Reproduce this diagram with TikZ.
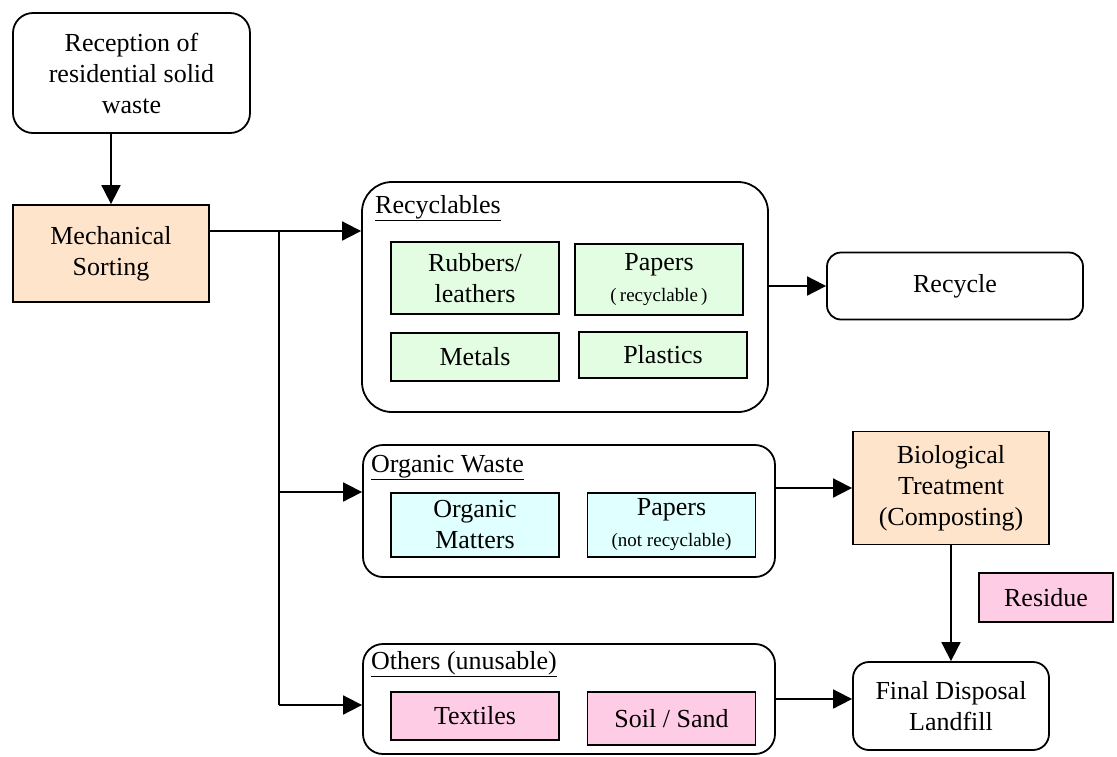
\documentclass[tikz,border=0pt]{standalone}
\usepackage{fontspec}
\setmainfont{Liberation Serif}
\usetikzlibrary{arrows.meta}
\definecolor{peach}{RGB}{255,228,204}
\definecolor{leaf}{RGB}{226,253,226}
\definecolor{aqua}{RGB}{224,255,255}
\definecolor{rose}{RGB}{255,204,230}
\begin{document}
\begin{tikzpicture}[x=1pt,y=-1pt,
    every node/.style={font=\fontsize{26}{31}\selectfont, align=center, inner sep=0pt},
    box/.style={draw, line width=1.8pt},
    rbox/.style={box, rounded corners=20pt},
    item/.style={box, minimum width=168pt},
    line/.style={line width=1.8pt},
    arr/.style={line width=1.8pt, -{Triangle[length=19pt,width=19pt]}}]
    \useasboundingbox (0,0) rectangle (1117,756);
    \node [rbox, minimum width=237pt, minimum height=120pt] (recep) at (131.5,73) {Reception of\\residential solid\\waste};
    \node [box, fill=peach, minimum width=196pt, minimum height=97pt] (mech) at (111,253.5) {Mechanical\\Sorting};
    \node [rbox, rounded corners=30pt, minimum width=406pt, minimum height=230pt] (recbox) at (565,297) {};
    \node [anchor=base west] (reclab) at (375,213) {\underline{Recyclables}};
    \node [item, fill=leaf, minimum height=72pt] (rubber) at (475,278) {Rubbers/\\leathers};
    \node [item, fill=leaf, minimum height=71pt] (paper1) at (659,279.5) {Papers\\{\fontsize{19}{22}\selectfont (\,recyclable\,)}};
    \node [item, fill=leaf, minimum height=48pt] (metal) at (475,357) {Metals};
    \node [item, fill=leaf, minimum height=46pt] (plastic) at (663,355) {Plastics};
    \node [rbox, rounded corners=14pt, minimum width=256pt, minimum height=67pt] (recycle) at (955,286) {Recycle};
    \node [rbox, minimum width=412pt, minimum height=132pt] (orgbox) at (569,511) {};
    \node [anchor=base west] (orglab) at (371,472) {\underline{Organic Waste}};
    \node [item, fill=aqua, minimum height=64pt] (organic) at (475,525) {Organic\\Matters};
    \node [item, fill=aqua, minimum height=64pt] (paper2) at (671.5,525) {Papers\\{\fontsize{19}{22}\selectfont (not recyclable)}};
    \node [box, fill=peach, minimum width=196pt, minimum height=113pt] (bio) at (951,488) {Biological\\Treatment\\(Composting)};
    \node [box, fill=rose, minimum width=134pt, minimum height=49pt] (residue) at (1046,597.5) {Residue};
    \node [rbox, rounded corners=16pt, minimum width=196pt, minimum height=88pt] (fin) at (951,706) {Final Disposal\\Landfill};
    \node [rbox, minimum width=412pt, minimum height=110pt] (othbox) at (569,699) {};
    \node [anchor=base west] (othlab) at (371,669) {\underline{Others (unusable)}};
    \node [item, fill=rose, minimum height=48pt] (textile) at (475,716) {Textiles};
    \node [item, fill=rose, minimum height=53pt] (soil) at (671.5,718.5) {Soil / Sand};
    \coordinate (split1) at (279,231);
    \coordinate (split2) at (279,492);
    \coordinate (split3) at (279,705);
    \draw [arr] (recep.south -| mech.north) -- (mech.north);
    \draw [arr] (mech.east |- split1) -- (split1 -| recbox.west);
    \draw [line] (split1) -- (split3);
    \draw [arr] (split2) -- (split2 -| orgbox.west);
    \draw [arr] (split3) -- (split3 -| othbox.west);
    \draw [arr] (recycle.west -| recbox.east) -- (recycle.west);
    \draw [arr] (bio.west -| orgbox.east) -- (bio.west);
    \draw [arr] (bio.south) -- (bio.south |- fin.north);
    \draw [arr] (othbox.east) -- (othbox.east -| fin.west);
\end{tikzpicture}
\end{document}
